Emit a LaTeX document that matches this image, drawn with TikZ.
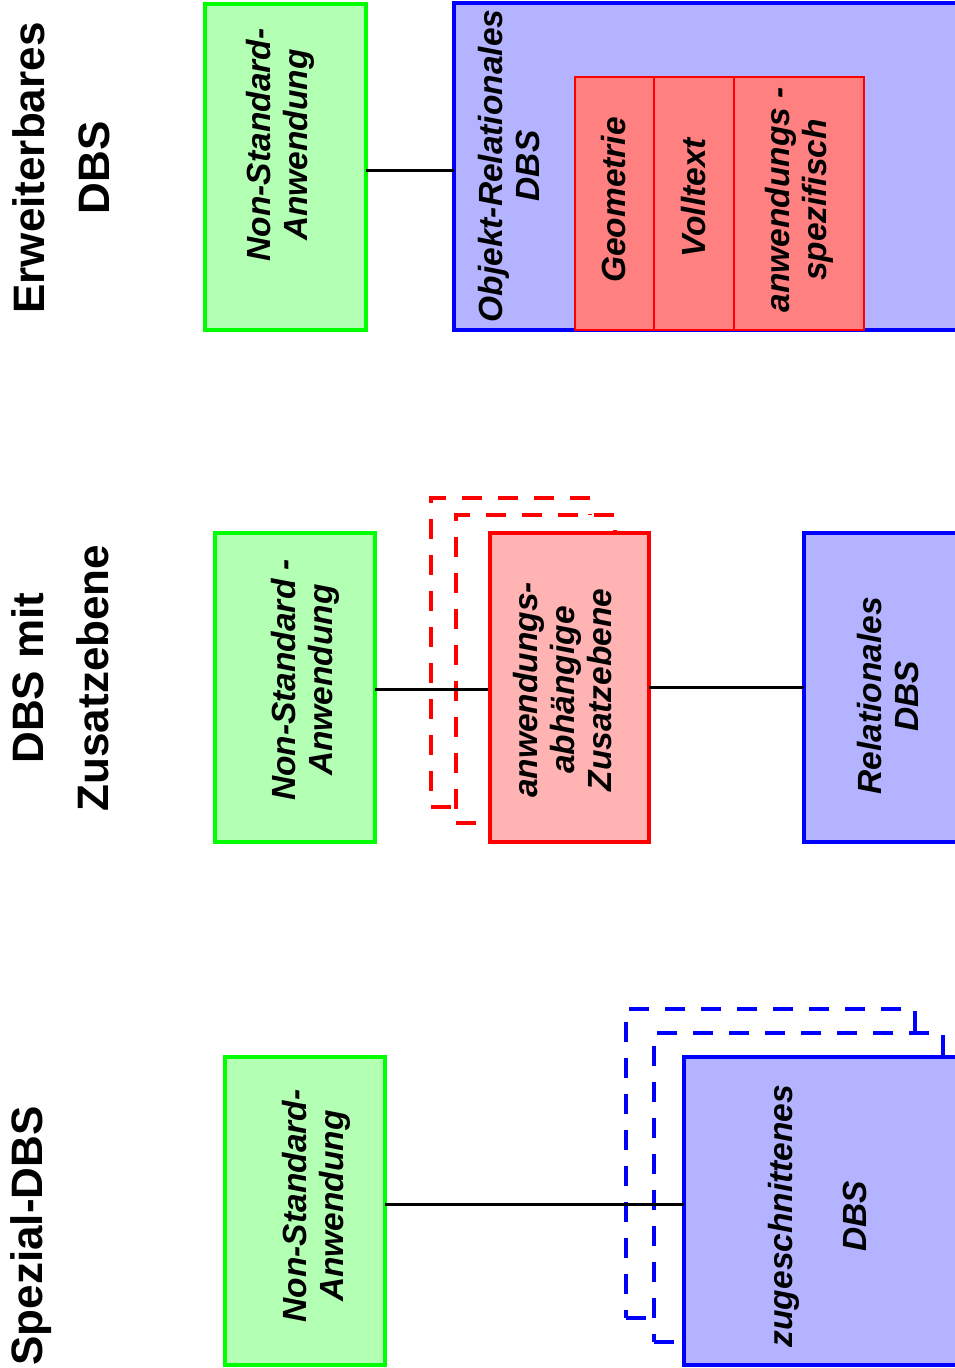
\documentclass[tikz,border=0pt]{standalone}
\usepackage{fontspec}
\setmainfont{Liberation Sans}
\definecolor{gfill}{HTML}{B3FFB3}
\definecolor{gline}{HTML}{00FF00}
\definecolor{bfill}{HTML}{B3B3FF}
\definecolor{bline}{HTML}{0000FF}
\definecolor{rfill}{HTML}{FF8080}
\definecolor{rline}{HTML}{FF0000}
\definecolor{rlight}{HTML}{FFB3B3}
\tikzset{
  box/.style={draw, line width=3.4pt, inner sep=0pt, outer sep=0pt, anchor=north west},
  appbox/.style={box, draw=gline, fill=gfill},
  dbbox/.style={box, draw=bline, fill=bfill},
  inbox/.style={box, line width=2.8pt, draw=rline, fill=rfill},
  layerbox/.style={box, draw=rline, fill=rlight},
  ghost/.style={box, fill=white, dash pattern=on 20pt off 16pt},
  txt/.style={rotate=90, align=center, inner sep=0pt, font=\fontsize{33.5}{37}\selectfont\bfseries\itshape},
  ttl/.style={rotate=90, align=center, inner sep=0pt, font=\fontsize{44}{65}\selectfont\bfseries},
  link/.style={line width=3pt, black},
}
\begin{document}
\begin{tikzpicture}[x=1pt,y=-1pt]
\useasboundingbox (0,0) rectangle (954,1368);

% ---------- Section 1: Erweiterbares DBS ----------
\node[ttl] (t1) at (61,168) {Erweiterbares\\DBS};
\node[appbox, minimum width=161pt, minimum height=326pt] (g1) at (205,4) {};
\node[dbbox, minimum width=530pt, minimum height=327pt] (or1) at (454,3) {};
\node[inbox, minimum width=79pt, minimum height=253pt] (geo) at (575,77) {};
\node[inbox, minimum width=80pt, minimum height=253pt] (vol) at (654,77) {};
\node[inbox, minimum width=130pt, minimum height=253pt] (spec) at (734,77) {};
\coordinate (g1out) at ([yshift=-3pt]g1.east);
\draw[link] (g1out) -- (g1out -| or1.west);
\node[txt] (g1t) at (280,145) {Non-Standard-\\Anwendung};
\node[txt] (or1t) at (509,166) {Objekt-Relationales\\DBS};
\node[txt] (geot) at (614,200) {Geometrie};
\node[txt] (volt) at (694,198) {Volltext};
\node[txt] (spect) at (799,200) {anwendungs -\\spezifisch};

% ---------- Section 2: DBS mit Zusatzebene ----------
\node[ttl] (t2) at (60,678) {DBS mit\\Zusatzebene};
\node[appbox, minimum width=160pt, minimum height=309pt] (g2) at (215,533) {};
\node[ghost, draw=rline, minimum width=159pt, minimum height=309pt] (z2a) at (431,498) {};
\node[ghost, draw=rline, minimum width=159pt, minimum height=308pt] (z2b) at (456,515) {};
\coordinate (g2out) at ([yshift=-2pt]g2.east);
\draw[link] (g2out) -- (g2out -| z2b.east);
\node[layerbox, minimum width=159pt, minimum height=309pt] (z2) at (490,533) {};
\node[dbbox, minimum width=200pt, minimum height=309pt] (rel) at (804,533) {};
\draw[link] (z2.east) -- (rel.west);
\node[txt] (g2t) at (305,680) {Non-Standard -\\Anwendung};
\node[txt] (z2t) at (563,690) {anwendungs-\\abhängige\\Zusatzebene};
\node[txt] (relt) at (888,696) {Relationales\\DBS};

% ---------- Section 3: Spezial-DBS ----------
\node[ttl] (t3) at (31,1236) {Spezial-DBS};
\node[appbox, minimum width=160pt, minimum height=308pt] (g3) at (225,1057) {};
\node[ghost, draw=bline, minimum width=289pt, minimum height=309pt] (s3a) at (626,1009) {};
\node[ghost, draw=bline, minimum width=289pt, minimum height=309pt] (s3b) at (654,1033) {};
\node[dbbox, minimum width=289pt, minimum height=308pt] (s3) at (684,1057) {};
\coordinate (g3out) at ([yshift=7pt]g3.east);
\draw[link] (g3out) -- (g3out -| s3.west);
\node[txt] (g3t) at (316,1206) {Non-Standard-\\Anwendung};
\node[txt] (s3t) at (818,1216) {zugeschnittenes\\[37pt]DBS};
\end{tikzpicture}
\end{document}
